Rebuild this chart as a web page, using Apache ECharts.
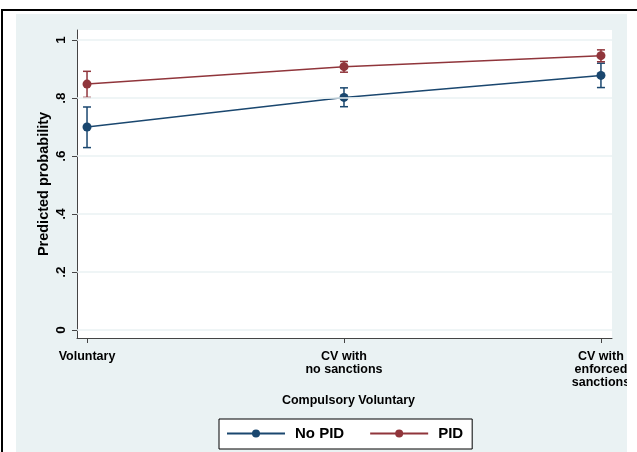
<!DOCTYPE html>
<html>
<head>
<meta charset="utf-8">
<script src="https://cdn.jsdelivr.net/npm/echarts@6/dist/echarts.min.js"></script>
<style>
  html, body { margin: 0; padding: 0; background: #fff; }
  #wrap { position: relative; width: 637px; height: 452px; overflow: hidden; background: #fff; }
  #panel { position: absolute; left: 16px; top: 14px; width: 611px; height: 438px; background: #EAF2F3; }
  #chart { position: absolute; left: 0; top: 0; width: 637px; height: 452px; }
  #edge { position: absolute; left: 627px; top: 14px; width: 10px; height: 438px; background: #fff; z-index: 5; }
  #lineTop { position: absolute; left: 1px; top: 9px; width: 636px; height: 2px; background: #000; z-index: 6; }
  #lineLeft { position: absolute; left: 1px; top: 9px; width: 2px; height: 443px; background: #000; z-index: 6; }
</style>
</head>
<body>
<div id="wrap">
  <div id="panel"></div>
  <div id="chart"></div>
  <div id="edge"></div>
  <div id="lineTop"></div>
  <div id="lineLeft"></div>
</div>
<script>
// Predicted probabilities with 95% confidence intervals
const categories = ['Voluntary', 'CV with\nno sanctions', 'CV with\nenforced\nsanctions'];
const noPid = [0.700, 0.802, 0.878];
const noPidLow = [0.629, 0.770, 0.836];
const noPidHigh = [0.769, 0.835, 0.920];
const pid = [0.848, 0.908, 0.946];
const pidLow = [0.802, 0.889, 0.925];
const pidHigh = [0.892, 0.926, 0.966];
const yTicks = [0, 0.2, 0.4, 0.6, 0.8, 1];
const xTicks = [0, 1, 2];

const NAVY = '#1A476F';
const MAROON = '#90353B';
const GRID = '#EAF2F3';
const FONT = 'Liberation Sans, Arial, Helvetica, sans-serif';

function ciData(low, high) {
  return categories.map((c, i) => [i, low[i], high[i]]);
}

function renderCI(color) {
  return function (params, api) {
    const x = api.value(0);
    const lo = api.coord([x, api.value(1)]);
    const hi = api.coord([x, api.value(2)]);
    const cap = 4;
    const style = { stroke: color, lineWidth: 1.5 };
    return {
      type: 'group',
      children: [
        { type: 'line', shape: { x1: lo[0], y1: lo[1], x2: hi[0], y2: hi[1] }, style },
        { type: 'line', shape: { x1: lo[0] - cap, y1: lo[1], x2: lo[0] + cap, y2: lo[1] }, style },
        { type: 'line', shape: { x1: hi[0] - cap, y1: hi[1], x2: hi[0] + cap, y2: hi[1] }, style }
      ]
    };
  };
}

const chart = echarts.init(document.getElementById('chart'), null, { renderer: 'canvas' });

chart.setOption({
  backgroundColor: 'transparent',
  animation: false,
  textStyle: { fontFamily: FONT },
  grid: {
    left: 77, right: 25, top: 30, bottom: 114,
    show: true, backgroundColor: '#fff', borderWidth: 0
  },
  legend: {
    data: ['No PID', 'PID'],
    left: 219, top: 419,
    orient: 'horizontal',
    backgroundColor: '#fff',
    borderColor: '#000',
    borderWidth: 1,
    borderRadius: 0,
    padding: [7, 9, 8, 7],
    itemWidth: 58,
    itemHeight: 10,
    itemGap: 25,
    textStyle: { fontSize: 15, fontWeight: 'bold', color: '#000', fontFamily: FONT, padding: [0, 0, 0, 5] }
  },
  xAxis: {
    type: 'value',
    min: -0.039,
    max: 2.043,
    name: 'Compulsory Voluntary',
    nameLocation: 'middle',
    nameGap: 56,
    nameMoveOverlap: false,
    nameTextStyle: { fontSize: 12.5, fontWeight: 'bold', color: '#000', fontFamily: FONT, padding: [0, 0, 0, 8] },
    axisLine: { show: true, onZero: false, lineStyle: { color: '#444', width: 1 } },
    axisTick: { show: true, length: 5, customValues: xTicks, lineStyle: { color: '#444', width: 1 } },
    axisLabel: {
      customValues: xTicks,
      margin: 12,
      fontSize: 12.5,
      fontWeight: 'bold',
      color: '#000',
      lineHeight: 13,
      align: 'center',
      fontFamily: FONT,
      formatter: v => categories[Math.round(v)]
    },
    splitLine: { show: false }
  },
  yAxis: {
    type: 'value',
    min: -0.0276,
    max: 1.0345,
    name: 'Predicted probability',
    nameLocation: 'middle',
    nameGap: 26,
    nameMoveOverlap: false,
    nameTextStyle: { fontSize: 14.5, fontWeight: 'bold', color: '#000', fontFamily: FONT },
    axisLine: { show: true, onZero: false, lineStyle: { color: '#444', width: 1 } },
    axisTick: { show: true, length: 5, customValues: yTicks, lineStyle: { color: '#444', width: 1 } },
    axisLabel: {
      customValues: yTicks,
      rotate: 90,
      margin: 9,
      fontSize: 13.5,
      fontWeight: 'bold',
      color: '#000',
      fontFamily: FONT,
      formatter: v => (v === 0 ? '0' : v === 1 ? '1' : String(Math.round(v * 10) / 10).replace(/^0/, ''))
    },
    splitLine: { show: false }
  },
  series: [
    {
      name: 'gridlines',
      type: 'line',
      data: [],
      z: 1,
      silent: true,
      markLine: {
        silent: true,
        symbol: 'none',
        label: { show: false },
        lineStyle: { color: GRID, width: 1.5, type: 'solid' },
        data: yTicks.map(v => ({ yAxis: v }))
      }
    },
    {
      name: 'No PID CI',
      type: 'custom',
      z: 2,
      data: ciData(noPidLow, noPidHigh),
      renderItem: renderCI(NAVY),
      encode: { x: 0, y: [1, 2] }
    },
    {
      name: 'PID CI',
      type: 'custom',
      z: 2,
      data: ciData(pidLow, pidHigh),
      renderItem: renderCI(MAROON),
      encode: { x: 0, y: [1, 2] }
    },
    {
      name: 'No PID',
      type: 'line',
      z: 3,
      data: categories.map((c, i) => [i, noPid[i]]),
      color: NAVY,
      lineStyle: { color: NAVY, width: 1.5 },
      itemStyle: { color: NAVY },
      symbol: 'circle',
      symbolSize: 9,
      showSymbol: true
    },
    {
      name: 'PID',
      type: 'line',
      z: 3,
      data: categories.map((c, i) => [i, pid[i]]),
      color: MAROON,
      lineStyle: { color: MAROON, width: 1.5 },
      itemStyle: { color: MAROON },
      symbol: 'circle',
      symbolSize: 9,
      showSymbol: true
    }
  ]
});
</script>
</body>
</html>
